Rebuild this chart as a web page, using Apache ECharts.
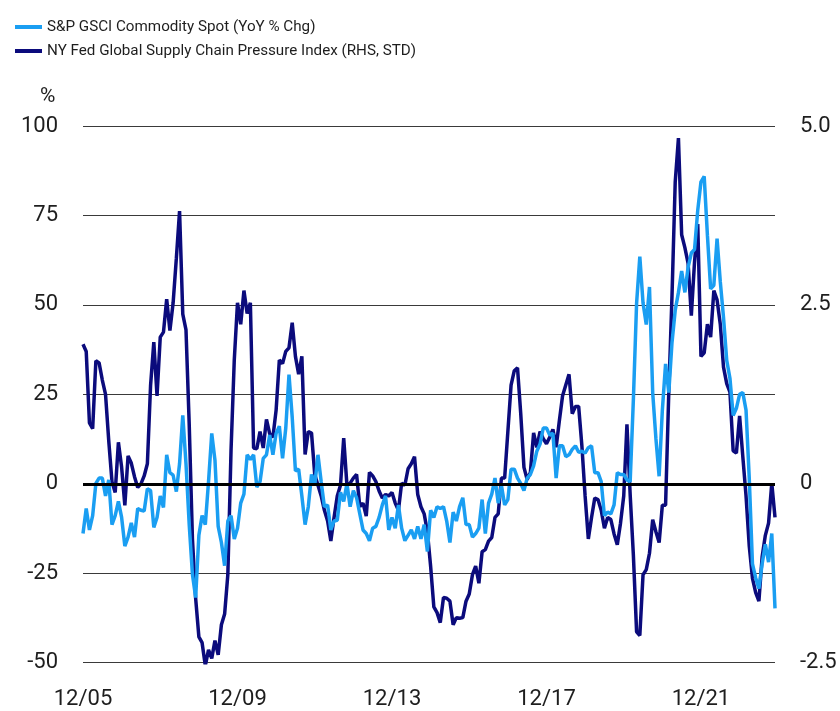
<!DOCTYPE html>
<html>
<head>
<meta charset="utf-8">
<title>GSCI vs supply chain pressure</title>
<script src="https://cdn.jsdelivr.net/npm/echarts@6/dist/echarts.min.js"></script>
<style>
  html, body { margin: 0; padding: 0; background: #fff; }
  #main { width: 840px; height: 711px; }
</style>
</head>
<body>
<div id="main"></div>
<script>
// S&P GSCI Commodity Spot, YoY % change (left axis), monthly from 12/05
var gsci = [
  -13.9,-6.9,-12.9,-8.9,0.1,1.6,1.6,-3.4,1.1,-11.4,
  -8.9,-4.9,-9.4,-17.4,-14.9,-10.9,-14.9,-6.9,-7.4,-7.6,
  -1.4,-1.9,-12.2,-9.4,-3.4,-6.6,8.1,3.1,2.4,-2.2,
  5.6,19.1,5.6,-11.4,-25.3,-31.8,-14.4,-8.9,-11.4,0.6,
  14.1,6.6,-11.9,-16.4,-22.9,-10.4,-8.9,-15.4,-12.4,-5.4,
  -2.9,8.1,6.8,8.1,-0.9,0.6,7.1,8.1,13.6,8.1,
  14.1,16.1,7.1,15.6,30.5,18.6,3.6,4.1,-3.4,-11.4,
  -6.4,2.6,-0.4,8.1,0.6,-6.4,-5.9,-12.9,-10.4,-10.2,
  -2.4,-4.9,0.1,-6.4,-1.9,-3.9,-8.4,-12.9,-13.9,-15.9,
  -12.4,-11.9,-9.4,-5.9,-3.4,-12.9,-9.4,-12.4,-5.9,-12.4,
  -15.9,-14.4,-12.9,-15.4,-11.9,-15.4,-11.4,-18.9,-7.4,-9.4,
  -6.4,-6.9,-6.4,-10.4,-16.4,-7.9,-10.4,-6.4,-3.9,-11.4,
  -11.4,-14.9,-13.9,-12.4,-4.4,-13.9,-5.4,-2.9,1.6,-5.4,
  -0.4,-5.9,-4.4,4.1,4.1,1.6,0.1,-1.9,1.6,2.6,
  5,9.1,11.1,15.6,15.6,13.6,14.1,1.6,10.6,10.6,
  7.6,8.1,9.6,10.6,8.8,9.1,8.6,10.1,10.6,3.1,
  3.1,0.6,-8.9,-7.9,-8.4,-5.9,3.1,2.6,2.6,1.1,
  0.6,23.6,50.5,63.5,50.5,44.5,55,25.5,12.6,2.1,
  20.6,33.5,25.5,39.5,48.5,53.5,59.5,53.5,60.5,64.5,
  65.5,76.5,84.4,85.9,69.5,54.5,55.5,68.5,56.5,46.5,
  34.5,29.5,19.1,21.1,25,25.5,20.6,1.6,-22.4,-26.3,
  -29.3,-22.4,-16.9,-21.9,-13.9,-34.8
];

// NY Fed Global Supply Chain Pressure Index, std dev (right axis)
var gscpi = [
  1.95,1.85,0.85,0.77,1.72,1.69,1.45,1.25,0.6,0.03,
  -0.12,0.58,0.23,-0.30,0.39,0.29,0.10,-0.05,0.00,0.11,
  0.28,1.38,1.98,1.23,2.05,2.12,2.58,2.14,2.53,3.15,
  3.81,2.37,2.15,0.83,-0.77,-1.60,-2.14,-2.22,-2.54,-2.32,
  -2.44,-2.19,-2.39,-1.97,-1.82,-1.27,0.48,1.73,2.53,2.23,
  2.70,2.38,2.53,0.50,0.49,0.73,0.50,0.90,0.70,0.65,
  1.03,1.73,1.68,1.85,1.90,2.25,1.78,1.53,1.78,0.41,
  0.73,0.71,0.13,-0.02,-0.17,-0.37,-0.52,-0.80,-0.47,-0.17,
  -0.02,0.64,-0.02,0.01,0.08,0.13,-0.32,-0.27,-0.45,0.16,
  0.11,0.03,-0.10,-0.20,-0.15,-0.17,-0.12,-0.27,-0.37,0.01,
  -0.02,0.21,0.28,0.38,-0.15,-0.32,-0.42,-0.67,-1.15,-1.72,
  -1.80,-1.94,-1.59,-1.60,-1.64,-1.97,-1.87,-1.88,-1.87,-1.64,
  -1.54,-1.27,-1.15,-1.39,-0.95,-0.92,-0.80,-0.75,-0.47,-0.42,
  0.08,0.08,0.73,1.38,1.58,1.62,0.98,0.23,0.06,0.16,
  0.71,0.51,0.73,0.63,0.56,0.65,0.76,0.51,0.88,1.23,
  1.38,1.53,0.98,1.08,1.08,0.53,-0.17,-0.77,-0.47,-0.20,
  -0.22,-0.37,-0.62,-0.47,-0.50,-0.70,-0.85,-0.55,-0.17,0.83,
  -0.15,-1.00,-2.07,-2.12,-1.27,-1.20,-0.97,-0.50,-0.67,-0.82,
  -0.30,-0.30,1.28,2.63,4.22,4.83,3.48,3.30,3.08,2.35,
  3.10,3.63,1.78,1.83,2.23,2.05,2.70,2.57,2.23,1.63,
  1.40,1.28,0.46,0.43,0.95,0.38,-0.17,-0.87,-1.32,-1.52,
  -1.64,-1.02,-0.72,-0.55,0.01,-0.47
];

var leftTicks = { min: -50, max: 100, step: 25 };
var rightTicks = { min: -2.5, max: 5, step: 2.5 };

// month labels MM/YY starting 12/05
var months = [];
for (var i = 0; i < gsci.length; i++) {
  var m = (11 + i) % 12 + 1;
  var y = 5 + Math.floor((11 + i) / 12);
  months.push((m < 10 ? '0' : '') + m + '/' + (y < 10 ? '0' : '') + y);
}

var nameLight = 'S&P GSCI Commodity Spot (YoY % Chg)';
var nameDark = 'NY Fed Global Supply Chain Pressure Index (RHS, STD)';
var cLight = '#1a9ef2';
var cDark = '#0b0b7c';
var txt = '#1e1e1e';
var font = 'Roboto, sans-serif';

var chart = echarts.init(document.getElementById('main'), null, { renderer: 'canvas' });

chart.setOption({
  animation: false,
  backgroundColor: '#fff',
  grid: { left: 83, right: 65, top: 126, bottom: 48.3 },
  legend: {
    orient: 'vertical',
    left: 10, top: 12,
    itemWidth: 27, itemHeight: 4, itemGap: 4,
    icon: 'rect',
    data: [nameLight, nameDark],
    textStyle: { fontFamily: font, fontSize: 15.2, color: txt, lineHeight: 20 }
  },
  graphic: [{
    type: 'text', left: 40, top: 86,
    style: { text: '%', font: '21px ' + font, fill: txt }
  }],
  xAxis: {
    type: 'category',
    data: months,
    boundaryGap: false,
    axisLine: { show: false },
    axisTick: { show: false },
    splitLine: { show: false },
    axisLabel: { interval: 47, margin: 26, fontSize: 22, fontFamily: font, color: txt }
  },
  yAxis: [{
    type: 'value',
    min: leftTicks.min, max: leftTicks.max, interval: leftTicks.step,
    axisLine: { show: false },
    axisTick: { show: false },
    axisLabel: { margin: 25, fontSize: 22, fontFamily: font, color: txt },
    splitLine: { lineStyle: { color: '#3a3a3a', width: 1 } }
  }, {
    type: 'value',
    min: rightTicks.min, max: rightTicks.max, interval: rightTicks.step,
    axisLine: { show: false },
    axisTick: { show: false },
    splitLine: { show: false },
    axisLabel: {
      margin: 25, fontSize: 22, fontFamily: font, color: txt,
      formatter: function (v) { return v === 0 ? '0' : v.toFixed(1); }
    }
  }],
  series: [{
    name: nameDark,
    type: 'line',
    yAxisIndex: 1,
    data: gscpi,
    showSymbol: false,
    lineStyle: { color: cDark, width: 3.5 },
    itemStyle: { color: cDark },
    markLine: {
      silent: true,
      symbol: 'none',
      label: { show: false },
      lineStyle: { color: '#000', width: 3, type: 'solid' },
      data: [{ yAxis: 0 }]
    }
  }, {
    name: nameLight,
    type: 'line',
    yAxisIndex: 0,
    data: gsci,
    showSymbol: false,
    lineStyle: { color: cLight, width: 3.5 },
    itemStyle: { color: cLight }
  }]
});
</script>
</body>
</html>
